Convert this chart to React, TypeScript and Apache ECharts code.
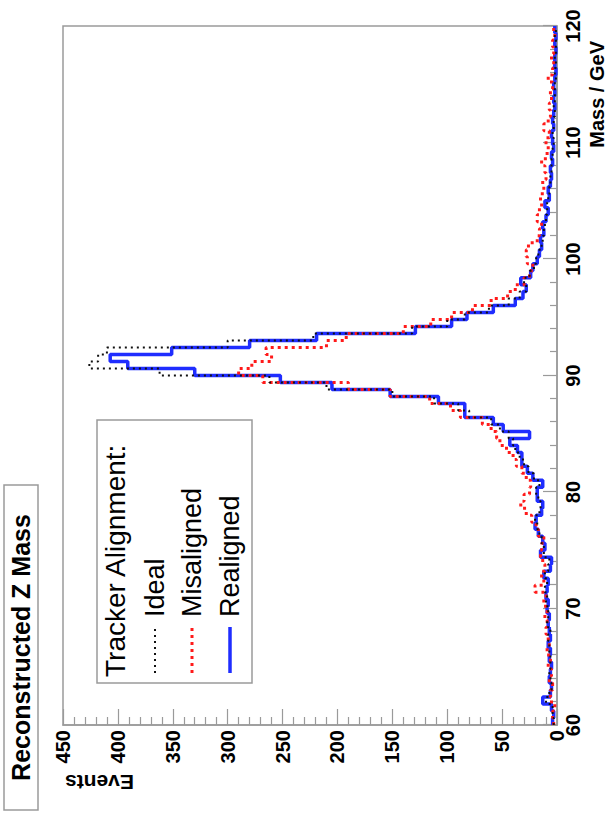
import React, { useEffect, useRef } from "react";
import * as echarts from "echarts";

// Histogram: 100 bins of 0.6 GeV from 60 to 120 GeV
const massMin = 60;
const massMax = 120;
const binWidth = 0.6;
const massTicks = [60, 70, 80, 90, 100, 110, 120];
const eventTicks = [0, 50, 100, 150, 200, 250, 300, 350, 400, 450];

const ideal = [
  3, 4, 4, 10, 7, 5, 6, 7, 6, 6,
  7, 7, 8, 6, 9, 8, 8, 10, 9, 11,
  9, 11, 8, 7, 12, 12, 14, 16, 18, 20,
  16, 15, 17, 19, 16, 21, 26, 30, 34, 38,
  40, 44, 52, 60, 80, 90, 112, 150, 210, 262,
  362, 426, 418, 410, 300, 222, 132, 100, 84, 62,
  44, 34, 28, 30, 25, 21, 19, 17, 14, 13,
  12, 11, 10, 9, 9, 8, 7, 6, 6, 5,
  5, 4, 4, 3, 4, 3, 3, 2, 3, 2,
  2, 2, 1, 2, 1, 2, 1, 1, 2, 1,
];

const misaligned = [
  3, 4, 2, 5, 6, 4, 7, 5, 8, 6,
  9, 7, 8, 10, 9, 11, 9, 12, 10, 20,
  12, 14, 11, 13, 15, 14, 12, 17, 19, 23,
  28, 33, 30, 25, 24, 28, 32, 37, 40, 46,
  52, 55, 60, 68, 88, 97, 116, 152, 190, 268,
  290, 278, 260, 265, 210, 192, 140, 115, 96, 77,
  60, 45, 38, 30, 25, 22, 27, 28, 26, 18,
  16, 14, 18, 16, 14, 15, 12, 13, 10, 11,
  14, 9, 8, 10, 7, 12, 8, 6, 7, 5,
  6, 4, 8, 4, 3, 5, 3, 4, 2, 3,
];

const realigned = [
  4, 3, 5, 13, 6, 5, 7, 6, 5, 7,
  6, 8, 6, 7, 8, 7, 9, 8, 10, 9,
  8, 12, 6, 5, 15, 11, 13, 17, 20, 19,
  14, 13, 18, 18, 13, 22, 27, 32, 32, 36,
  43, 25, 49, 58, 84, 84, 108, 152, 205, 252,
  330, 391, 407, 351, 280, 219, 129, 96, 82, 58,
  38, 31, 28, 33, 24, 22, 18, 16, 14, 15,
  12, 13, 10, 8, 11, 7, 8, 6, 5, 6,
  4, 5, 3, 4, 5, 3, 4, 3, 2, 3,
  2, 3, 2, 1, 2, 2, 1, 2, 1, 2,
];

const seriesNames = ["Ideal", "Misaligned", "Realigned"];
const legendTitle = "Tracker Alignment:";
const chartTitle = "Reconstructed Z Mass";
const xTitle = "Mass / GeV";
const yTitle = "Events";

function toSteps(values: number[]) {
  const pts: number[][] = values.map((v, i) => [+(massMin + i * binWidth).toFixed(2), v]);
  pts.push([massMax, values[values.length - 1]]);
  return pts;
}

const FONT = "'Liberation Sans', Arial, Helvetica, sans-serif";
const GRAY = "#9a9a9a";

export default function App() {
  const ref = useRef<HTMLDivElement>(null);
  useEffect(() => {
    if (!ref.current) return;
    const chart = echarts.init(ref.current, null, { renderer: "svg" });
    const gl = 95, gt = 63, gw = 699, gh = 494;
    const legendRows = [115, 155, 192, 230];
    chart.setOption({
      animation: false,
      backgroundColor: "#ffffff",
      textStyle: { fontFamily: FONT },
      grid: { left: gl, top: gt, right: 820 - gl - gw, bottom: 614 - gt - gh, outerBoundsMode: "none" },
      xAxis: {
        type: "value",
        min: massTicks[0],
        max: massTicks[massTicks.length - 1],
        interval: 10,
        axisLine: { show: true, onZero: false, lineStyle: { color: GRAY, width: 1.5 } },
        axisTick: { show: true, inside: true, length: 14, lineStyle: { color: GRAY, width: 1.2 } },
        minorTick: { show: true, splitNumber: 5, length: 7, lineStyle: { color: GRAY, width: 1.2 } },
        axisLabel: { fontSize: 20, fontWeight: "bold", color: "#000", margin: 6, fontFamily: FONT },
        splitLine: { show: false },
      },
      yAxis: {
        type: "value",
        min: eventTicks[0],
        max: eventTicks[eventTicks.length - 1],
        interval: 50,
        axisLine: { show: true, onZero: false, lineStyle: { color: GRAY, width: 1.5 } },
        axisTick: { show: true, inside: true, length: 16, lineStyle: { color: GRAY, width: 1.2 } },
        minorTick: { show: true, splitNumber: 5, length: 8, lineStyle: { color: GRAY, width: 1.2 } },
        axisLabel: { fontSize: 20, fontWeight: "bold", color: "#000", margin: 5, fontFamily: FONT },
        splitLine: { show: false },
      },
      series: [
        {
          name: seriesNames[2],
          type: "line",
          step: "end",
          symbol: "none",
          data: toSteps(realigned),
          lineStyle: { color: "#1f2dff", width: 3.5 },
          z: 3,
        },
        {
          name: seriesNames[1],
          type: "line",
          step: "end",
          symbol: "none",
          data: toSteps(misaligned),
          lineStyle: { color: "#ff1a1a", width: 3, type: [3, 4] },
          z: 4,
        },
        {
          name: seriesNames[0],
          type: "line",
          step: "end",
          symbol: "none",
          data: toSteps(ideal),
          lineStyle: { color: "#111", width: 2, type: [2, 4] },
          z: 5,
        },
      ],
      graphic: [
        {
          type: "rect",
          z: 1,
          silent: true,
          shape: { x: gl, y: gt, width: gw, height: gh },
          style: { fill: "none", stroke: GRAY, lineWidth: 1.5 },
        },
        {
          type: "rect",
          z: 1,
          shape: { x: 10, y: 4, width: 325, height: 34 },
          style: { fill: "#fff", stroke: GRAY, lineWidth: 1.5 },
        },
        {
          type: "text",
          z: 2,
          x: 172.5,
          y: 21,
          style: {
            text: chartTitle,
            fontSize: 25,
            fontWeight: "bold",
            fontFamily: FONT,
            fill: "#000",
            align: "center",
            verticalAlign: "middle",
          },
        },
        {
          type: "text",
          z: 2,
          x: 38,
          y: 65,
          rotation: Math.PI / 2,
          style: {
            text: yTitle,
            fontSize: 21,
            fontWeight: "bold",
            fontFamily: FONT,
            fill: "#000",
            align: "right",
            verticalAlign: "middle",
          },
        },
        {
          type: "text",
          z: 2,
          x: 779,
          y: 597,
          style: {
            text: xTitle,
            fontSize: 20,
            fontWeight: "bold",
            fontFamily: FONT,
            fill: "#000",
            align: "right",
            verticalAlign: "middle",
          },
        },
        {
          type: "rect",
          z: 6,
          shape: { x: 137, y: 97, width: 263, height: 155 },
          style: { fill: "#fff", stroke: GRAY, lineWidth: 1.5 },
        },
        {
          type: "text",
          z: 7,
          x: 143,
          y: legendRows[0],
          style: { text: legendTitle, fontSize: 28, fontFamily: FONT, fill: "#000", verticalAlign: "middle" },
        },
        {
          type: "line",
          z: 7,
          shape: { x1: 147, y1: legendRows[1], x2: 193, y2: legendRows[1] },
          style: { stroke: "#111", lineWidth: 2, lineDash: [2, 4] },
        },
        {
          type: "text",
          z: 7,
          x: 203,
          y: legendRows[1],
          style: { text: seriesNames[0], fontSize: 27, fontFamily: FONT, fill: "#000", verticalAlign: "middle" },
        },
        {
          type: "line",
          z: 7,
          shape: { x1: 147, y1: legendRows[2], x2: 193, y2: legendRows[2] },
          style: { stroke: "#ff1a1a", lineWidth: 3, lineDash: [3, 4] },
        },
        {
          type: "text",
          z: 7,
          x: 203,
          y: legendRows[2],
          style: { text: seriesNames[1], fontSize: 27, fontFamily: FONT, fill: "#000", verticalAlign: "middle" },
        },
        {
          type: "line",
          z: 7,
          shape: { x1: 147, y1: legendRows[3], x2: 193, y2: legendRows[3] },
          style: { stroke: "#1f2dff", lineWidth: 3.5 },
        },
        {
          type: "text",
          z: 7,
          x: 203,
          y: legendRows[3],
          style: { text: seriesNames[2], fontSize: 27, fontFamily: FONT, fill: "#000", verticalAlign: "middle" },
        },
      ],
    });
    return () => chart.dispose();
  }, []);

  return (
    <div style={{ position: "fixed", left: 0, top: 0, width: 614, height: 820, overflow: "hidden", background: "#fff" }}>
      <div
        ref={ref}
        style={{
          position: "absolute",
          left: 0,
          top: 0,
          width: 820,
          height: 614,
          transformOrigin: "0 0",
          transform: "translate(0px, 820px) rotate(-90deg)",
        }}
      />
    </div>
  );
}
